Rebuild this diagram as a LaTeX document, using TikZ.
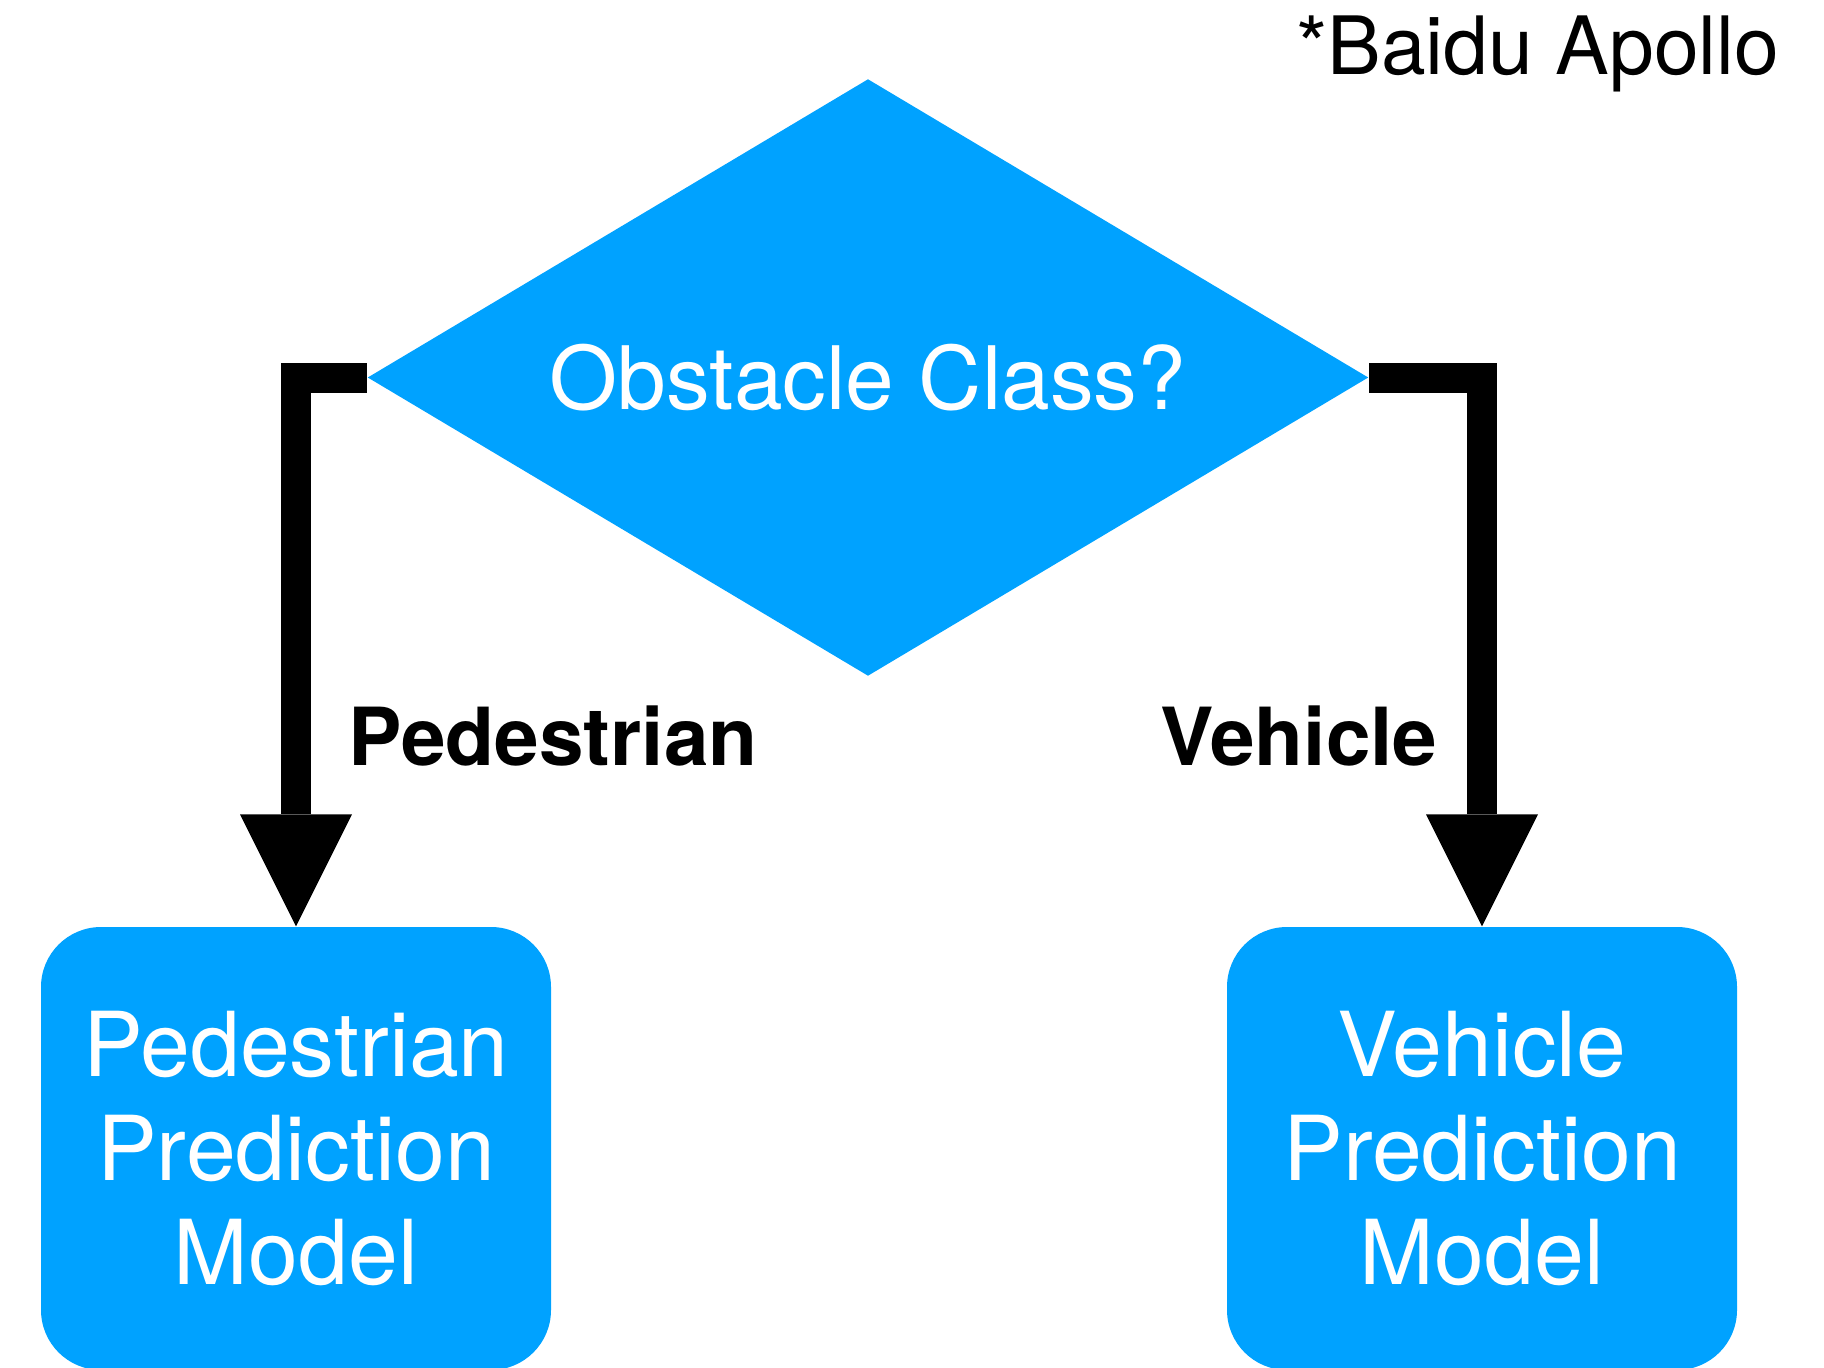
\documentclass[tikz,border=0pt]{standalone}
\usepackage{fontspec}
\setmainfont{TeX Gyre Heros}
\usepackage{xcolor}
\usepackage{tikz}
\usetikzlibrary{shapes.geometric, arrows.meta, positioning}

\definecolor{apolloblue}{HTML}{00A2FF}

\begin{document}
\begin{tikzpicture}[
    decision/.style={diamond, aspect=1.677, fill=apolloblue, inner sep=0pt, minimum width=10.01cm, minimum height=5.97cm, text=white, font=\fontsize{24.9}{29.5}\selectfont},
    model/.style={fill=apolloblue, rounded corners=0.6cm, minimum width=5.1cm, minimum height=4.43cm, align=center, text=white, font=\fontsize{25.5}{29.5}\selectfont},
    flow/.style={line width=0.3cm, line join=miter, -{Triangle[length=1.12cm, width=1.12cm, line width=0pt]}},
    lbl/.style={font=\fontsize{22.8}{26}\selectfont\bfseries, anchor=base},
]
\useasboundingbox (0,0) rectangle (18.24,13.67);

% decision
\node[decision] (cls) at (8.68, 9.895) {Obstacle Class?};

% prediction models
\node[model] (ped) at (2.96, 2.185) {Pedestrian\\Prediction\\Model};
\node[model] (veh) at (14.82, 2.185) {Vehicle\\Prediction\\Model};

% branches
\draw[flow] (cls.west) -| (ped.north);
\draw[flow] (cls.east) -| (veh.north);
\node[lbl] (pedlbl) at (5.53, 6.02) {Pedestrian};
\node[lbl] (vehlbl) at (12.99, 6.02) {Vehicle};

% source note
\node[font=\fontsize{22.9}{27}\selectfont, anchor=base east, inner sep=0pt] (src) at (17.80, 12.92) {*Baidu Apollo};

\end{tikzpicture}
\end{document}
